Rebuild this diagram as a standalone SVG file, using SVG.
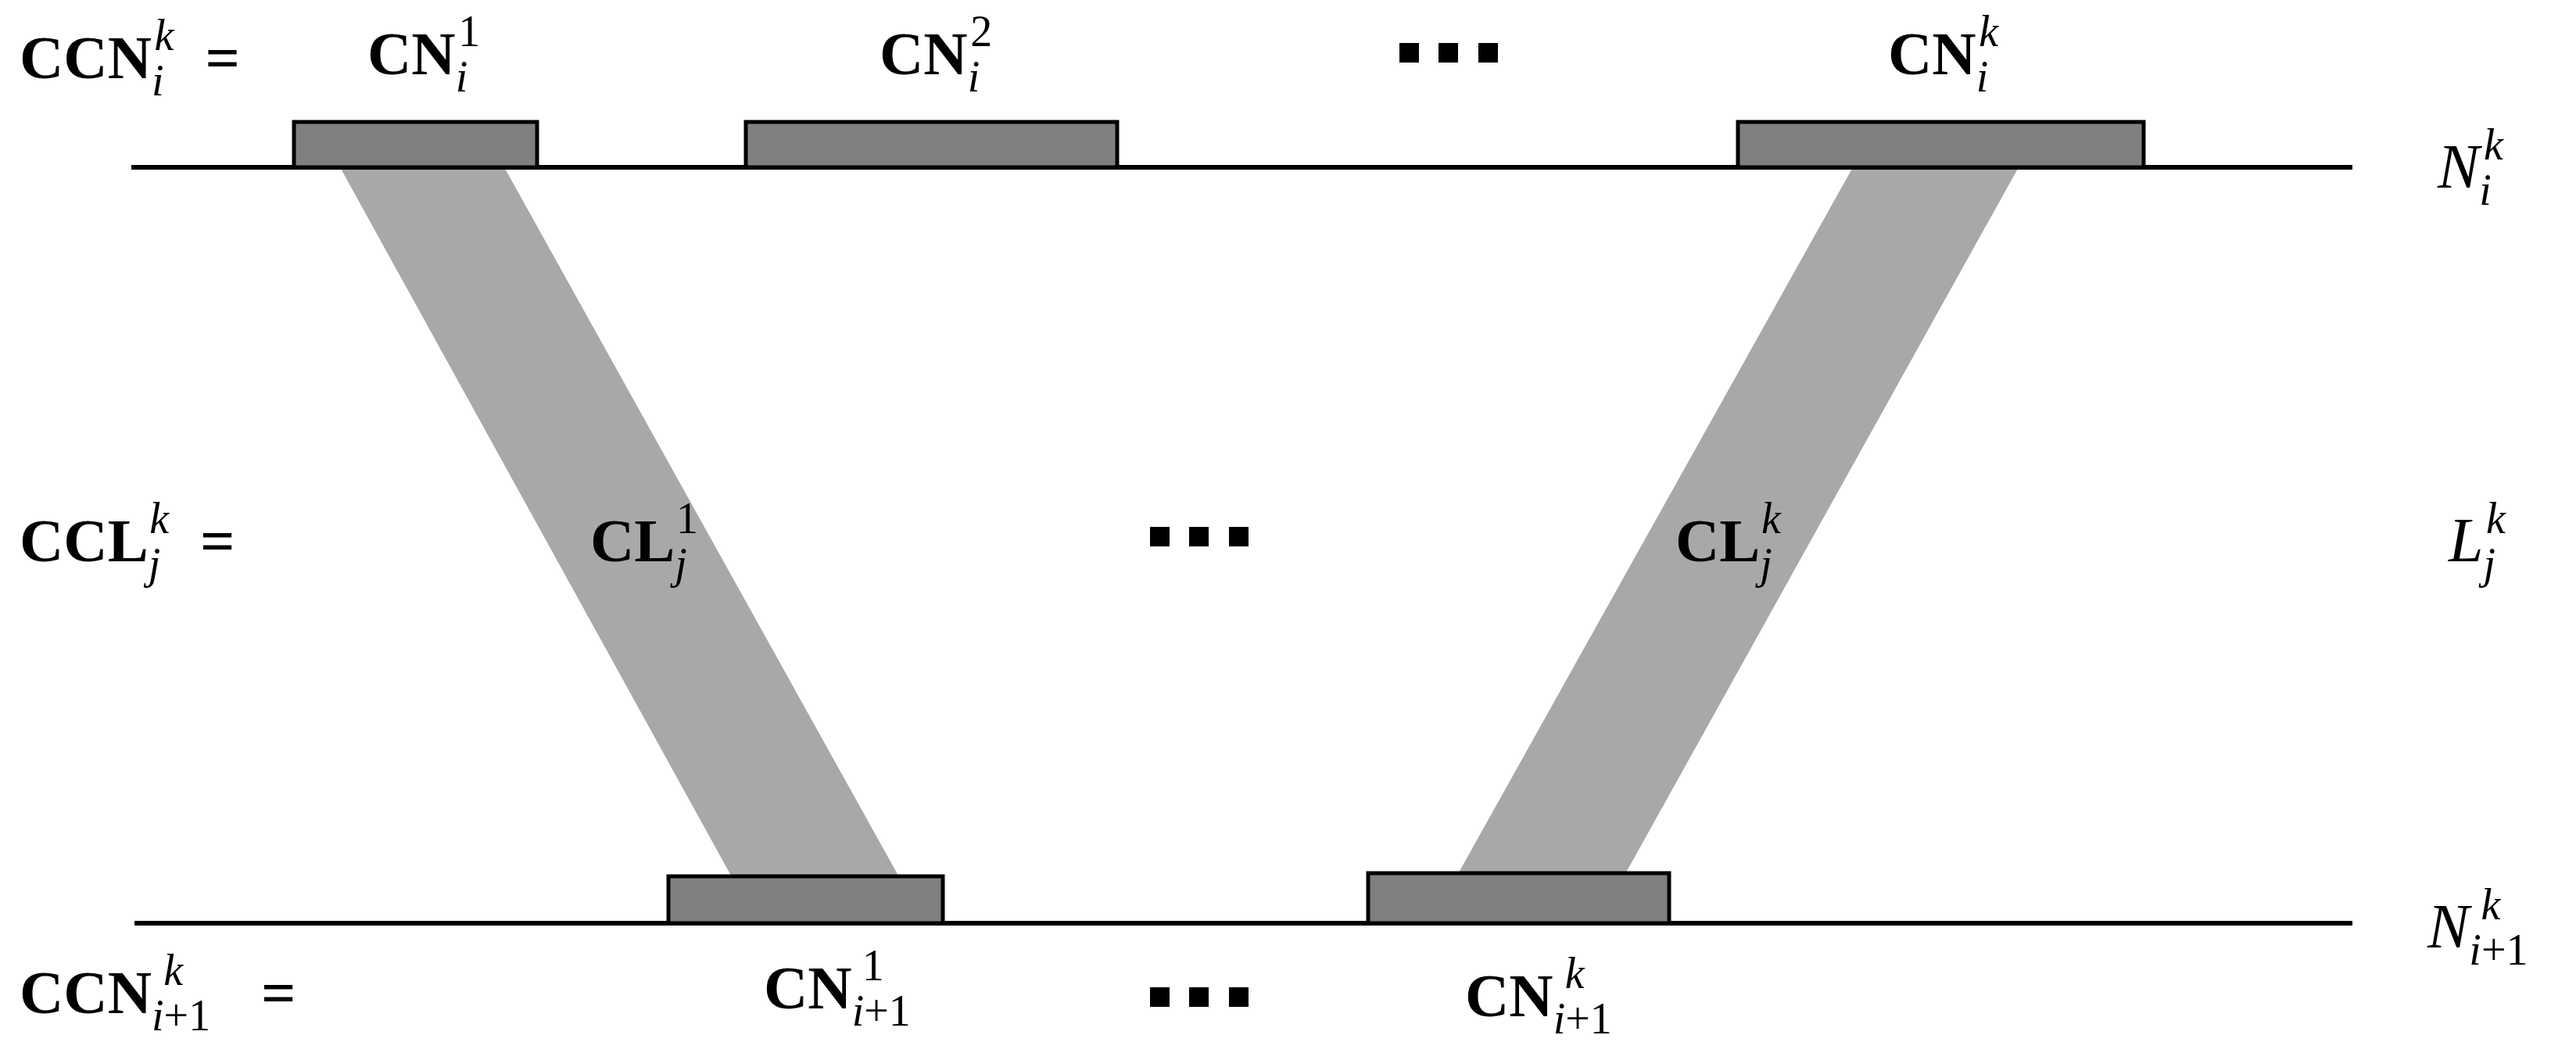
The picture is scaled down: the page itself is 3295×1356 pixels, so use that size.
<svg xmlns="http://www.w3.org/2000/svg" width="3295" height="1356" viewBox="0 0 3295 1356">
<style>
.t{font-family:"Liberation Serif",serif;font-weight:bold;font-size:78px;fill:#000}
.s{font-size:56px;font-style:italic;font-weight:normal}
.n{font-size:56px;font-weight:normal}
.i{font-family:"Liberation Serif",serif;font-style:italic;font-size:80px;fill:#000}
.u{font-style:normal}
.cn{fill:#808080;stroke:#000;stroke-width:5}
.band{fill:#a8a8a8}
.ln{stroke:#000;stroke-width:6}
.d{fill:#000}
</style>
<rect width="3295" height="1356" fill="#fff"/>
<g id="connectors">
<polygon class="band" points="435,214 645,214 1149,1120 935,1120"/>
<polygon class="band" points="2370,214 2582,214 2080,1116 1866,1116"/>
<line class="ln" x1="168" y1="214" x2="3009" y2="214"/>
<line class="ln" x1="172" y1="1181" x2="3009" y2="1181"/>
</g>
<g id="cn1"><rect class="cn" x="376" y="156" width="311" height="58"/></g>
<g id="cn2"><rect class="cn" x="954" y="156" width="475" height="58"/></g>
<g id="cnk"><rect class="cn" x="2223" y="156" width="519" height="58"/></g>
<g id="cn1b"><rect class="cn" x="855" y="1121" width="351" height="60"/></g>
<g id="cnkb"><rect class="cn" x="1750" y="1117" width="385" height="64"/></g>
<g id="dots">
<rect class="d" x="1790" y="55" width="25" height="25"/><rect class="d" x="1840" y="55" width="25" height="25"/><rect class="d" x="1891" y="55" width="25" height="25"/>
<rect class="d" x="1471" y="674" width="25" height="25"/><rect class="d" x="1521" y="674" width="25" height="25"/><rect class="d" x="1572" y="674" width="25" height="25"/>
<rect class="d" x="1471" y="1263" width="25" height="25"/><rect class="d" x="1521" y="1263" width="25" height="25"/><rect class="d" x="1572" y="1263" width="25" height="25"/>
</g>
<g id="labels">
<text class="t" x="25" y="100">CCN<tspan class="s" dy="22">i</tspan><tspan class="s" dx="-12" dy="-58">k</tspan><tspan dx="40" dy="36">=</tspan></text>
<text class="t" x="470" y="95">CN<tspan class="s" dy="22">i</tspan><tspan class="n" dx="-12" dy="-58">1</tspan></text>
<text class="t" x="1125" y="95">CN<tspan class="s" dy="22">i</tspan><tspan class="n" dx="-12" dy="-58">2</tspan></text>
<text class="t" x="2415" y="95">CN<tspan class="s" dy="22">i</tspan><tspan class="s" dx="-12" dy="-58">k</tspan></text>
<text class="i" x="3118" y="240">N<tspan class="s" dy="22">i</tspan><tspan class="s" dx="-10" dy="-58">k</tspan></text>
<text class="t" x="25" y="718">CCL<tspan class="s" dy="22">j</tspan><tspan class="s" dx="-14" dy="-58">k</tspan><tspan dx="40" dy="36">=</tspan></text>
<text class="t" x="755" y="718">CL<tspan class="s" dy="22">j</tspan><tspan class="n" dx="-14" dy="-58">1</tspan></text>
<text class="t" x="2143" y="718">CL<tspan class="s" dy="22">j</tspan><tspan class="s" dx="-14" dy="-58">k</tspan></text>
<text class="i" x="3132" y="718">L<tspan class="s" dy="22">j</tspan><tspan class="s" dx="-12" dy="-58">k</tspan></text>
<text class="i" x="3105" y="1212">N<tspan class="s" dy="22">i<tspan class="u">+1</tspan></tspan><tspan class="s" dx="-60" dy="-58">k</tspan></text>
<text class="t" x="25" y="1296">CCN<tspan class="s" dy="22">i<tspan class="u">+1</tspan></tspan><tspan class="s" dx="-60" dy="-58">k</tspan><tspan dx="100" dy="36">=</tspan></text>
<text class="t" x="977" y="1290">CN<tspan class="s" dy="22">i<tspan class="u">+1</tspan></tspan><tspan class="n" dx="-60" dy="-58">1</tspan></text>
<text class="t" x="1874" y="1300">CN<tspan class="s" dy="22">i<tspan class="u">+1</tspan></tspan><tspan class="s" dx="-60" dy="-58">k</tspan></text>
</g>
</svg>
